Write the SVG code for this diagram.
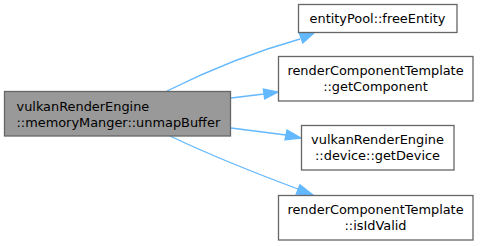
<svg xmlns="http://www.w3.org/2000/svg" width="482" height="246" viewBox="0 0 482 246">
  <style>
    .node rect { fill: #ffffff; stroke: #666666; stroke-width: 1.3; }
    .node.main rect { fill: #999999; }
    .node text { font-family: "DejaVu Sans", sans-serif; font-size: 12.9px; fill: #000000; }
    .edge path { fill: none; stroke: #63b8ff; stroke-width: 1.3; }
    .edge polygon { fill: #63b8ff; stroke: #63b8ff; stroke-width: 1.3; }
  </style>

  <!-- call edges -->
  <g id="edges">
    <g class="edge" id="edge-freeEntity">
      <path d="M167,91 C205,72 250,53 300,39"/>
      <polygon points="302.8,42.9 314,33 299.3,33.4"/>
    </g>
    <g class="edge" id="edge-getComponent">
      <path d="M231,98 L264,94"/>
      <polygon points="264.7,99 278,92 263.3,89"/>
    </g>
    <g class="edge" id="edge-getDevice">
      <path d="M231,128 L286,135"/>
      <polygon points="285,139.9 301,138 287,130.1"/>
    </g>
    <g class="edge" id="edge-isIdValid">
      <path d="M170,136 C210,155 255,173 298,189"/>
      <polygon points="296.2,194.1 313,195 299.9,184.9"/>
    </g>
  </g>

  <!-- caller -->
  <g class="node main" id="node-unmapBuffer">
    <rect x="4.5" y="91.5" width="226" height="44.5"/>
    <text x="16.5" y="110.5">vulkanRenderEngine</text>
    <text x="16.5" y="126.5">::memoryManger::unmapBuffer</text>
  </g>

  <!-- callees -->
  <g class="node" id="node-freeEntity">
    <rect x="298.5" y="4.5" width="158.5" height="28"/>
    <text x="377.5" y="23" text-anchor="middle">entityPool::freeEntity</text>
  </g>
  <g class="node" id="node-getComponent">
    <rect x="278.5" y="56.5" width="194.5" height="44.5"/>
    <text x="375.5" y="75" text-anchor="middle">renderComponentTemplate</text>
    <text x="375.5" y="90.5" text-anchor="middle">::getComponent</text>
  </g>
  <g class="node" id="node-getDevice">
    <rect x="301.5" y="125.5" width="152.5" height="44.5"/>
    <text x="377.5" y="144" text-anchor="middle">vulkanRenderEngine</text>
    <text x="377.5" y="159.5" text-anchor="middle">::device::getDevice</text>
  </g>
  <g class="node" id="node-isIdValid">
    <rect x="278.5" y="195.5" width="194.5" height="44.5"/>
    <text x="375.5" y="214" text-anchor="middle">renderComponentTemplate</text>
    <text x="375.5" y="229.5" text-anchor="middle">::isIdValid</text>
  </g>
</svg>
